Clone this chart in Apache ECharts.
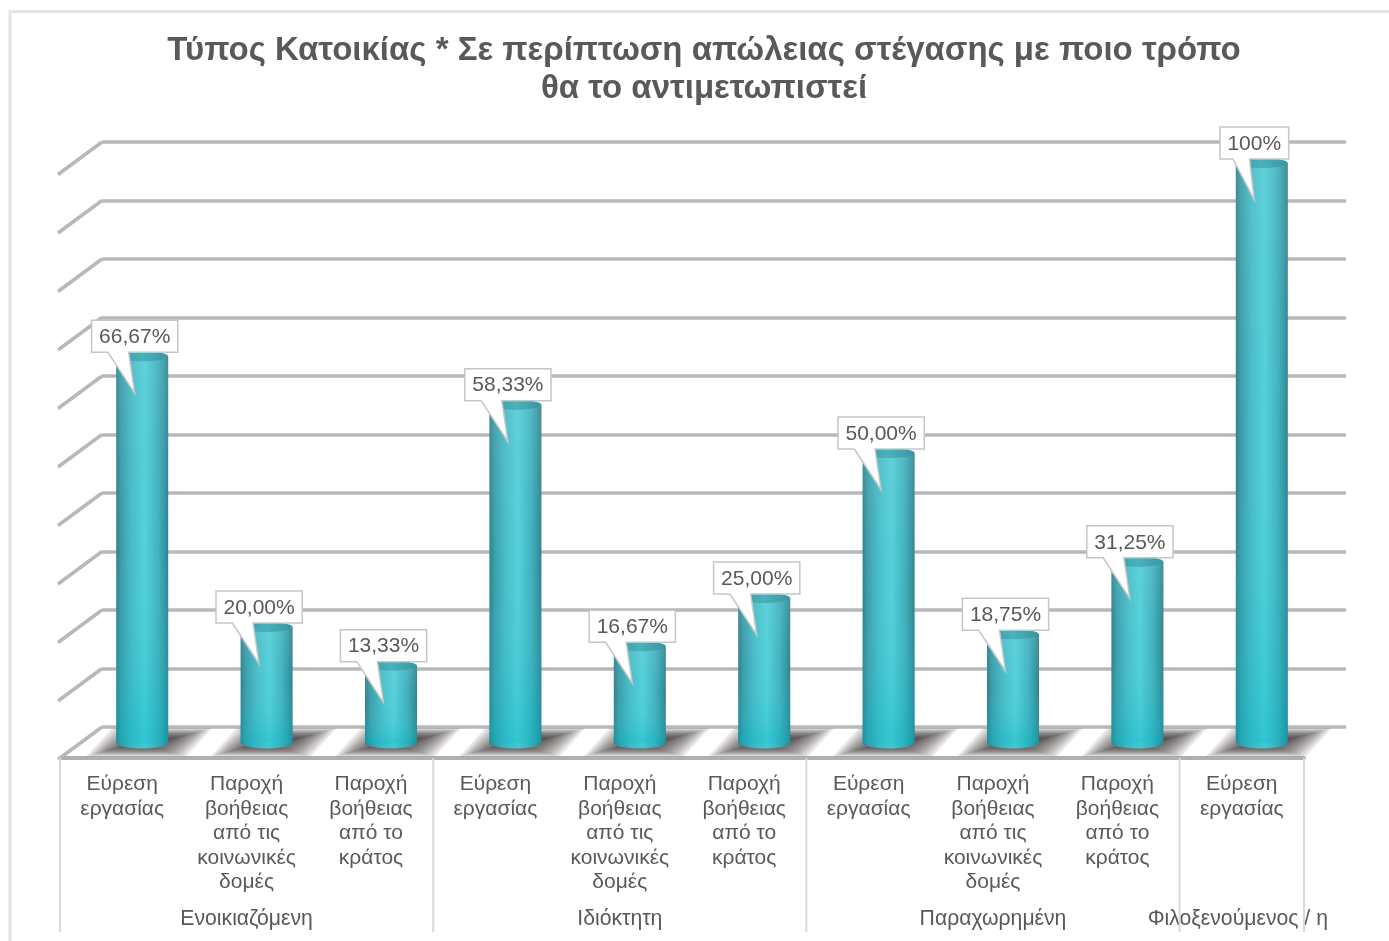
<!DOCTYPE html>
<html><head><meta charset="utf-8">
<style>html,body{margin:0;padding:0;background:#fff}#c{width:1389px;height:941px}</style>
<script src="https://cdn.jsdelivr.net/npm/echarts@6/dist/echarts.min.js"></script>
</head><body><div id="c"></div>
<script>
const titleLines = ['Τύπος Κατοικίας * Σε περίπτωση απώλειας στέγασης με ποιο τρόπο', 'θα το αντιμετωπιστεί'];
const jobLabel = 'Εύρεση\nεργασίας';
const socialLabel = 'Παροχή\nβοήθειας\nαπό τις\nκοινωνικές\nδομές';
const stateLabel = 'Παροχή\nβοήθειας\nαπό το\nκράτος';
const categories = [jobLabel, socialLabel, stateLabel, jobLabel, socialLabel, stateLabel, jobLabel, socialLabel, stateLabel, jobLabel];
const groupLabels = ['', 'Ενοικιαζόμενη', '', '', 'Ιδιόκτητη', '', '', 'Παραχωρημένη', '', 'Φιλοξενούμενος / η'];
const groupBoundaries = [0, 3, 6, 9, 10];
const values = [66.67, 20, 13.33, 58.33, 16.67, 25, 50, 18.75, 31.25, 100];
const valueLabels = ['66,67%', '20,00%', '13,33%', '58,33%', '16,67%', '25,00%', '50,00%', '18,75%', '31,25%', '100%'];
const yTicks = [0, 10, 20, 30, 40, 50, 60, 70, 80, 90, 100];

const FONT = '"Liberation Sans", Arial, sans-serif';
const TXT = '#595959', GRID = '#b8b8b8';
const DEPTH_X = 42, DEPTH_Y = -31;
const measure = document.createElement('canvas').getContext('2d');
const lg = (x2, y2, stops) => new echarts.graphic.LinearGradient(0, 0, x2, y2, stops.map(s => ({offset: s[0], color: s[1]})));
const sideStops = [[0,'#2f7c88'],[0.1,'#3a9ca8'],[0.3,'#47bcc8'],[0.55,'#54d2dc'],[0.8,'#3fb2be'],[0.93,'#3394a0'],[1,'#307c88']];
const baseStops = [[0,'#24868f'],[0.1,'#2ba2ae'],[0.3,'#34bac6'],[0.55,'#3ccad5'],[0.8,'#30b2be'],[0.93,'#279aa6'],[1,'#248892']];
const barPairs = values.map((v, i) => [i, v]);
const hiddenY = {type:'value', min:0, max:100, show:false};
const hiddenCat = g => ({type:'category', gridIndex:g, data:categories, show:false});

const option = {
  animation:false,
  backgroundColor:'#fff',
  title:{text:titleLines.join('\n'), left:699, top:27, textAlign:'center',
    textStyle:{fontFamily:FONT, fontWeight:'bold', fontSize:33, lineHeight:38, color:TXT}},
  graphic:[{type:'rect', shape:{x:10, y:11.5, width:2000, height:2000}, style:{fill:'none', stroke:'#e4e4e4', lineWidth:3}, z:-1, silent:true}],
  grid:[
    {left:60, width:1244, top:173, height:585},
    {left:80, width:1244, top:163, height:580},
    {left:102, width:1244, top:142, height:585}
  ],
  xAxis:[
    {type:'category', gridIndex:0, data:categories,
      axisLine:{show:true, lineStyle:{color:'#b0b0b0', width:4}}, axisTick:{show:false},
      axisLabel:{interval:0, margin:14, fontFamily:FONT, fontSize:21, lineHeight:24.5, color:TXT, align:'center', verticalAlign:'top'}},
    {type:'category', gridIndex:0, data:groupLabels.map((g, i) => i === 9 ? {value:g, textStyle:{padding:[0,8,0,0]}} : g), position:'bottom', offset:151,
      axisLine:{show:false}, axisTick:{show:false},
      axisLabel:{interval:0, margin:0, fontFamily:FONT, fontSize:21.2, color:TXT, verticalAlign:'top', hideOverlap:false}},
    {type:'value', gridIndex:0, min:0, max:10, show:false},
    hiddenCat(1),
    hiddenCat(2)
  ],
  yAxis:[
    Object.assign({gridIndex:0}, hiddenY),
    Object.assign({gridIndex:1}, hiddenY),
    {type:'value', gridIndex:2, min:0, max:100, interval:10, axisLine:{show:false}, axisTick:{show:false}, axisLabel:{show:false},
      splitLine:{show:true, lineStyle:{color:GRID, width:3.5}}}
  ],
  series:[
    {name:'side wall', type:'custom', xAxisIndex:2, yAxisIndex:0, z:1, silent:true, clip:false,
      data:yTicks.map(t => [0, t]),
      renderItem:(p, api) => {
        const a = api.coord([api.value(0), api.value(1)]);
        return {type:'line', shape:{x1:a[0]-2, y1:a[1]+1.5, x2:a[0]+DEPTH_X, y2:a[1]+DEPTH_Y}, style:{stroke:GRID, lineWidth:3.5}};
      }},
    {name:'group separators', type:'custom', xAxisIndex:2, yAxisIndex:0, z:1, silent:true, clip:false,
      data:groupBoundaries.map(b => [b, 0]),
      renderItem:(p, api) => {
        const a = api.coord([api.value(0), 0]);
        return {type:'line', shape:{x1:a[0], y1:a[1], x2:a[0], y2:a[1]+174}, style:{stroke:'#d9d9d9', lineWidth:2}};
      }},
    {name:'floor shadow', type:'custom', xAxisIndex:3, yAxisIndex:1, z:2, silent:true, clip:false,
      data:barPairs,
      renderItem:(p, api) => {
        const c = api.coord([api.value(0), 0]);
        const kids = [];
        for (let k = 0; k < 14; k++) {
          const s = k * 3.1, v = k * 0.85;
          kids.push({type:'polygon', shape:{points:[
            [c[0]-56+s, c[1]+13.5-v], [c[0]+44-s, c[1]+13.5-v],
            [c[0]+70-s, c[1]-15+v], [c[0]-30+s, c[1]-15+v]
          ]}, style:{fill:'rgba(50,40,40,0.105)'}});
        }
        return {type:'group', children:kids};
      }},
    {name:'bar base', type:'custom', xAxisIndex:3, yAxisIndex:1, z:3, silent:true, clip:false,
      data:barPairs,
      renderItem:(p, api) => {
        const c = api.coord([api.value(0), 0]);
        return {type:'ellipse', shape:{cx:c[0], cy:c[1], rx:26, ry:5.5}, style:{fill:lg(1, 0, baseStops)}};
      }},
    {name:'Ποσοστό', type:'bar', xAxisIndex:3, yAxisIndex:1, z:4, barWidth:52, silent:true,
      data:values, itemStyle:{color:lg(1, 0, sideStops)}},
    {name:'bar shade', type:'custom', xAxisIndex:3, yAxisIndex:1, z:5, silent:true, clip:false,
      data:barPairs,
      renderItem:(p, api) => {
        const t = api.coord([api.value(0), api.value(1)]);
        const b = api.coord([api.value(0), 0]);
        return {type:'group', children:[
          {type:'rect', shape:{x:t[0]-26, y:t[1], width:52, height:b[1]-t[1]},
            style:{fill:lg(0, 1, [[0,'rgba(150,205,210,0.2)'],[0.5,'rgba(90,200,210,0.05)'],[1,'rgba(0,180,195,0.4)']])}},
          {type:'ellipse', shape:{cx:t[0], cy:t[1], rx:26, ry:5},
            style:{fill:lg(1, 0, [[0,'#3d96a2'],[0.5,'#48b2bc'],[1,'#3c94a0']])}}
        ]};
      }},
    {name:'callouts', type:'custom', xAxisIndex:3, yAxisIndex:1, z:6, silent:true, clip:false,
      data:barPairs,
      renderItem:(p, api) => {
        const i = api.value(0);
        const t = api.coord([i, api.value(1)]);
        const txt = valueLabels[i];
        measure.font = '21px ' + FONT;
        const w = measure.measureText(txt).width + 15;
        const h = 32, cx = t[0]-7.5, bottom = t[1]-4, top = bottom-h, l = cx-w/2, r = cx+w/2;
        return {type:'group', children:[
          {type:'polygon', shape:{points:[[l,top],[r,top],[r,bottom],[cx-w*0.07,bottom],[cx,t[1]+37],[cx-w*0.31,bottom],[l,bottom]]},
            style:{fill:'#fff', stroke:'#c6c6c6', lineWidth:1.5}},
          {type:'text', style:{text:txt, x:cx, y:top+h/2+1, align:'center', verticalAlign:'middle', font:'21px '+FONT, fill:TXT}}
        ]};
      }}
  ]
};
const chart = echarts.init(document.getElementById('c'));
chart.setOption(option);
</script></body></html>
